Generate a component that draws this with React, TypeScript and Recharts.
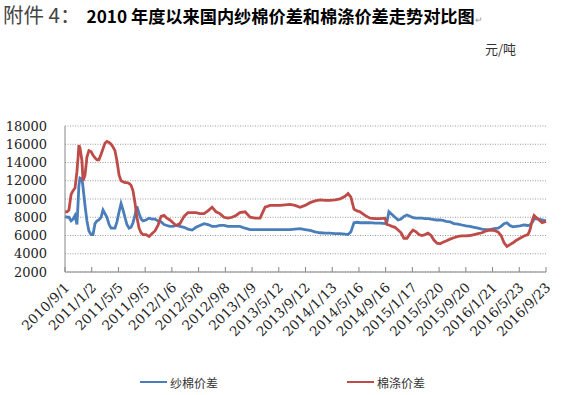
import React from 'react';
import { LineChart, Line, XAxis, YAxis, CartesianGrid } from 'recharts';

// X tick labels (dates) shown on the axis
const tickLabels = [
  '2010/9/1', '2011/1/2', '2011/5/5', '2011/9/5', '2012/1/6', '2012/5/8', '2012/9/8',
  '2013/1/9', '2013/5/12', '2013/9/12', '2014/1/13', '2014/5/16', '2014/9/16',
  '2015/1/17', '2015/5/20', '2015/9/20', '2016/1/21', '2016/5/23', '2016/9/23',
];

const yTicks = [2000, 4000, 6000, 8000, 10000, 12000, 14000, 16000, 18000];

// sample dates as day offsets from 2010/9/1
const dayOffsets = [
  0, 9, 18, 28, 37, 46, 55, 60, 64, 69,
  78, 83, 92, 101, 110, 120, 129, 138, 147, 156,
  166, 175, 184, 193, 203, 212, 221, 230, 239, 249,
  258, 267, 276, 285, 295, 304, 313, 322, 331, 341,
  350, 359, 373, 387, 400, 414, 428, 442, 456, 469,
  483, 497, 511, 529, 548, 566, 585, 603, 621, 640,
  658, 677, 695, 713, 732, 750, 769, 787, 805, 829,
  852, 875, 898, 921, 944, 967, 990, 1013, 1036, 1059,
  1082, 1105, 1128, 1151, 1174, 1197, 1220, 1243, 1266, 1289,
  1303, 1316, 1330, 1344, 1358, 1381, 1404, 1427, 1450, 1473,
  1482, 1491, 1505, 1519, 1533, 1547, 1560, 1574, 1588, 1602,
  1616, 1629, 1643, 1657, 1671, 1685, 1698, 1712, 1726, 1740,
  1754, 1772, 1790, 1809, 1827, 1846, 1864, 1883, 1901, 1919,
  1938, 1956, 1975, 1993, 2007, 2021, 2034, 2048, 2062, 2076,
  2094, 2113, 2131, 2140, 2150, 2159, 2168, 2182, 2196, 2214,
];

// 纱棉价差 (blue)
const yarnCottonSpread = [
  8100, 8000, 8000, 7600, 7800, 8200, 7200, 9500, 11500, 12300,
  12200, 11300, 9300, 7600, 6500, 6100, 6100, 7300, 7600, 7700,
  8000, 8800, 8400, 8000, 7200, 6800, 6800, 6800, 7500, 8600,
  9500, 8800, 8000, 7200, 6800, 6900, 7400, 8200, 9200, 8400,
  7800, 7600, 7700, 7900, 7800, 7800, 7600, 7500, 7200, 7100,
  7000, 7000, 7100, 7000, 6900, 6700, 6600, 6900, 7100, 7300,
  7200, 7000, 7000, 7100, 7100, 7000, 7000, 7000, 7000, 6800,
  6650, 6650, 6650, 6650, 6650, 6650, 6650, 6650, 6650, 6700,
  6750, 6650, 6550, 6400, 6300, 6250, 6250, 6200, 6200, 6150,
  6100, 6400, 7400, 7450, 7400, 7400, 7400, 7350, 7350, 7300,
  7500, 8600, 8300, 8000, 7700, 7800, 8100, 8250, 8100, 7950,
  7900, 7900, 7900, 7850, 7850, 7800, 7750, 7700, 7700, 7650,
  7550, 7500, 7300, 7250, 7150, 7050, 7000, 6900, 6800, 6700,
  6650, 6650, 6750, 6800, 7000, 7300, 7400, 7100, 6950, 7000,
  7050, 7150, 7100, 7150, 7400, 7800, 7850, 7800, 7700, 7600,
];

// 棉涤价差 (red)
const cottonPolySpread = [
  8600, 8600, 8800, 10500, 10900, 11200, 13000, 14500, 15900, 15600,
  14200, 12000, 12600, 14600, 15300, 15200, 14800, 14500, 14300, 14300,
  14900, 15500, 16100, 16300, 16200, 16000, 15700, 15300, 14200, 12600,
  12000, 11900, 11800, 11800, 11700, 11500, 10900, 9600, 8000, 6800,
  6300, 6100, 6100, 5900, 6200, 6500, 7100, 8100, 8200, 7900,
  7700, 7400, 7100, 7300, 8100, 8500, 8500, 8500, 8400, 8400,
  8700, 9100, 8600, 8400, 8000, 7900, 8000, 8200, 8500, 8600,
  8000, 7900, 7900, 9100, 9300, 9300, 9300, 9350, 9400, 9300,
  9100, 9300, 9600, 9800, 9900, 9850, 9850, 9900, 10000, 10300,
  10600, 10200, 8900, 8700, 8600, 8200, 7900, 7850, 7850, 7900,
  7200, 7150, 7000, 6900, 6600, 6300, 5700, 5700, 6200, 6600,
  6400, 6100, 6000, 6100, 6250, 6000, 5500, 5150, 5100, 5250,
  5400, 5600, 5750, 5900, 5950, 5950, 6000, 6100, 6200, 6300,
  6500, 6600, 6550, 6400, 6000, 5200, 4800, 5000, 5200, 5450,
  5700, 5950, 6100, 6600, 7600, 8200, 8000, 7700, 7400, 7550,
];

const seriesNames = ['纱棉价差', '棉涤价差'];
const seriesColors = ['#4A7EBB', '#BE4B48'];

const baseDate = Date.UTC(2010, 8, 1);
const toDay = (s: string) => {
  const [y, m, d] = s.split('/').map(Number);
  return Math.round((Date.UTC(y, m - 1, d) - baseDate) / 86400000);
};
const tickDays = tickLabels.map(toDay);
const labelByDay: Record<number, string> = {};
tickLabels.forEach((l, i) => { labelByDay[tickDays[i]] = l; });

const data = dayOffsets.map((day, i) => ({
  day,
  yarn: yarnCottonSpread[i],
  poly: cottonPolySpread[i],
}));

const AXIS = '#868686';
const SERIF = '"DejaVu Serif", serif';
const CJK = '"Noto Sans CJK SC", "Noto Sans", sans-serif';

const XTick = (props: any) => {
  const { x, y, payload } = props;
  const label = labelByDay[payload.value] ?? '';
  return (
    <g>
      <line x1={x} y1={y} x2={x} y2={y - 5} stroke={AXIS} strokeWidth={1} />
      <text
        x={0}
        y={0}
        transform={`translate(${x + 2},${y + 13}) rotate(-45)`}
        textAnchor="end"
        dy="0.35em"
        fontSize={13.5}
        fontFamily={SERIF}
        fill="#222"
      >
        {label}
      </text>
    </g>
  );
};

export default function App() {
  return (
    <div style={{ position: 'absolute', left: 0, top: 0, width: 570, height: 395, background: '#fff', overflow: 'hidden' }}>
      <div style={{ position: 'absolute', left: 3, top: 2, whiteSpace: 'nowrap', lineHeight: '24px', display: 'flex', alignItems: 'baseline' }}>
        <span style={{ fontFamily: CJK, fontSize: 20.5, color: '#444', fontWeight: 400 }}>附件 4：</span>
        <span style={{ fontFamily: CJK, fontSize: 17.2, color: '#000', fontWeight: 700, marginLeft: 6 }}>
          2010 年度以来国内纱棉价差和棉涤价差走势对比图
        </span>
        <span style={{ fontFamily: CJK, fontSize: 9, color: '#999' }}>↵</span>
      </div>
      <div style={{ position: 'absolute', left: 485, top: 40, fontFamily: CJK, fontSize: 13, color: '#333', lineHeight: '18px' }}>
        元/吨
      </div>
      <LineChart
        width={570}
        height={395}
        data={data}
        margin={{ top: 126, right: 24, bottom: 0, left: 0 }}
      >
        <CartesianGrid vertical={false} stroke="#9a9a9a" strokeDasharray="1 1.5" />
        <XAxis
          type="number"
          dataKey="day"
          domain={[tickDays[0], tickDays[tickDays.length - 1]]}
          ticks={tickDays}
          interval={0}
          height={123}
          tickSize={0}
          tickMargin={0}
          tickLine={false}
          axisLine={{ stroke: AXIS, strokeWidth: 1 }}
          tick={<XTick />}
        />
        <YAxis
          type="number"
          domain={[2000, 18000]}
          ticks={yTicks}
          interval={0}
          width={65}
          tickSize={0}
          tickMargin={18}
          tickLine={false}
          axisLine={{ stroke: AXIS, strokeWidth: 1 }}
          tick={{ fontSize: 13, fontFamily: SERIF, fill: '#222' }}
        />
        <Line
          type="linear"
          dataKey="yarn"
          name={seriesNames[0]}
          stroke={seriesColors[0]}
          strokeWidth={2.8}
          dot={false}
          isAnimationActive={false}
        />
        <Line
          type="linear"
          dataKey="poly"
          name={seriesNames[1]}
          stroke={seriesColors[1]}
          strokeWidth={2.8}
          dot={false}
          isAnimationActive={false}
        />
      </LineChart>
      {seriesNames.map((n, i) => (
        <div
          key={n}
          style={{ position: 'absolute', left: i === 0 ? 140 : 347, top: 374, display: 'flex', alignItems: 'center', height: 16 }}
        >
          <div style={{ width: 27, height: 0, borderTop: `2px solid ${seriesColors[i]}` }} />
          <span style={{ fontFamily: CJK, fontSize: 12, color: '#333', marginLeft: 3 }}>{n}</span>
        </div>
      ))}
    </div>
  );
}
